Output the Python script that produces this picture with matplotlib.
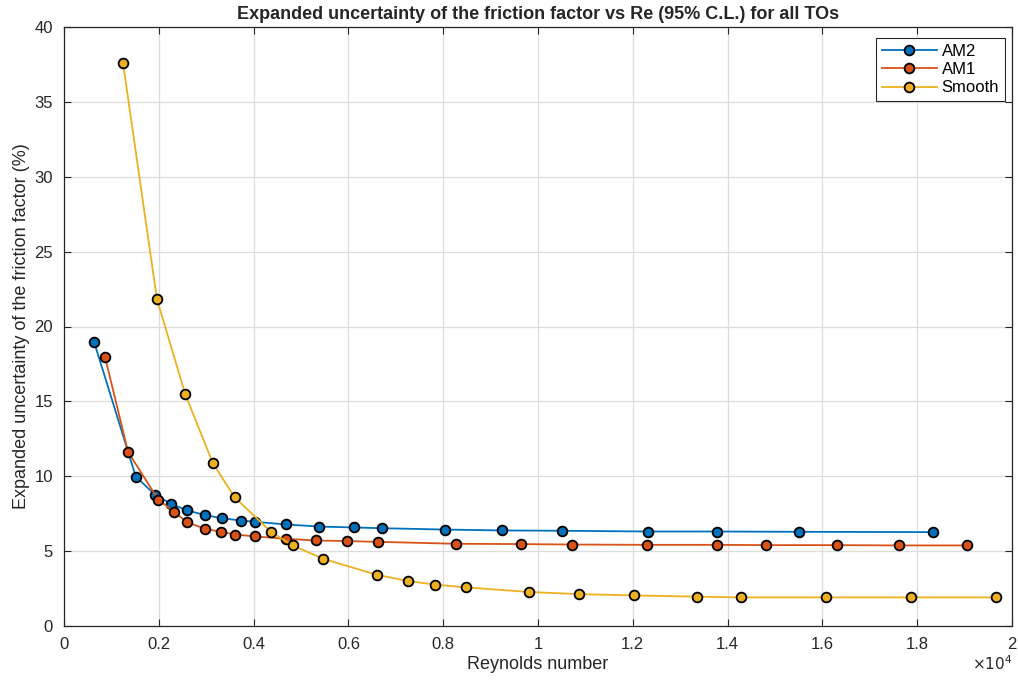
import numpy as np
import matplotlib
matplotlib.use('Agg')
import matplotlib.pyplot as plt
from matplotlib.ticker import FuncFormatter

plt.rcParams['font.family'] = ['Liberation Sans', 'DejaVu Sans']

# Reynolds number and expanded uncertainty (%) per test object
re_am2 = [634, 1514, 1915, 2254, 2592, 2979, 3324, 3739, 4035, 4683, 5387, 6127, 6711,
          8033, 9247, 10503, 12324, 13771, 15500, 18328]
u_am2 = [18.98, 9.98, 8.78, 8.16, 7.73, 7.40, 7.20, 7.04, 6.96, 6.78, 6.64, 6.58, 6.53,
         6.44, 6.38, 6.36, 6.31, 6.31, 6.29, 6.27]

re_am1 = [866, 1352, 1993, 2331, 2592, 2979, 3310, 3613, 4035, 4683, 5317, 5972, 6620,
          8266, 9647, 10719, 12299, 13780, 14811, 16316, 17613, 19052]
u_am1 = [17.96, 11.62, 8.42, 7.62, 6.93, 6.49, 6.29, 6.11, 5.98, 5.82, 5.71, 5.67, 5.62,
         5.49, 5.47, 5.44, 5.42, 5.42, 5.40, 5.40, 5.38, 5.38]

re_smooth = [1245, 1960, 2556, 3141, 3599, 4366, 4824, 5465, 6599, 7250, 7834, 8474,
             9813, 10861, 12033, 13347, 14279, 16066, 17871, 19659]
u_smooth = [37.6, 21.84, 15.49, 10.87, 8.60, 6.29, 5.38, 4.49, 3.42, 3.01, 2.76, 2.58,
            2.27, 2.13, 2.04, 1.96, 1.91, 1.91, 1.91, 1.91]

series = [('AM2', re_am2, u_am2, '#0072BD'),
          ('AM1', re_am1, u_am1, '#D95319'),
          ('Smooth', re_smooth, u_smooth, '#EDB120')]

fig = plt.figure(figsize=(10.18, 6.86), dpi=100)
ax = fig.add_axes([64/1018, 1-626/686, (1012-64)/1018, (626-27)/686])

for name, x, y, c in series:
    ax.plot(x, y, '-o', color=c, lw=1.3, ms=7, mfc=c, mec='black', mew=1.3, label=name)

ax.set_xlim(0, 20000)
ax.set_ylim(0, 40)
ax.set_xticks(np.arange(0, 20001, 2000))
ax.set_yticks(np.arange(0, 41, 5))
ax.xaxis.set_major_formatter(FuncFormatter(lambda v, p: '%g' % (v/1e4)))
ax.grid(True, color='#dcdcdc', lw=0.9)
ax.set_axisbelow(True)
ax.tick_params(direction='in', top=True, right=True, length=5, width=0.8,
               labelsize=12, colors='#262626', pad=8)
for s in ax.spines.values():
    s.set_color('#262626')
    s.set_linewidth(0.9)

ax.set_xlabel('Reynolds number', fontsize=13, color='#262626', labelpad=3)
ax.set_ylabel('Expanded uncertainty of the friction factor (%)', fontsize=13,
              color='#262626', labelpad=3)
ax.set_title('Expanded uncertainty of the friction factor vs Re (95% C.L.) for all TOs',
             fontsize=13, fontweight='bold', color='#262626', pad=6)
ax.text(1.0, -0.048, r'$\times10^4$', transform=ax.transAxes, ha='right', va='top',
        fontsize=11, color='#262626')

leg = ax.legend(loc='upper right', bbox_to_anchor=(1 - 7/948, 1 - 11/599),
                borderaxespad=0, fontsize=12, fancybox=False, edgecolor='#262626',
                framealpha=1, handlelength=3.3, labelspacing=0.2,
                borderpad=0.35, handletextpad=0.3)
leg.get_frame().set_linewidth(0.8)

fig.savefig('out.png', dpi=100)
